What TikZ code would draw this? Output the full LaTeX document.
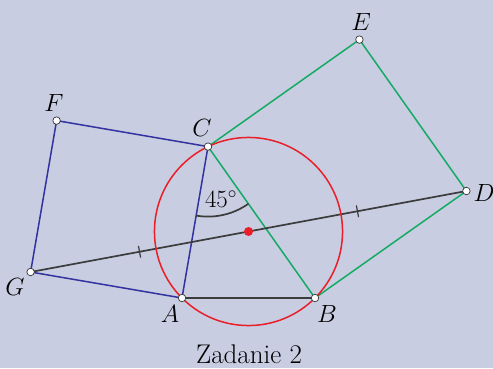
\documentclass[tikz,border=0pt]{standalone}
\usetikzlibrary{calc,angles}
\definecolor{bgc}{RGB}{200,205,225}
\definecolor{sqblue}{RGB}{50,50,160}
\definecolor{sqgreen}{RGB}{20,170,100}
\definecolor{circred}{RGB}{235,30,40}
\definecolor{darkline}{RGB}{60,60,60}
\begin{document}
\begin{tikzpicture}[x=1pt,y=1pt,
  bluel/.style={draw=sqblue,line width=1.5pt},
  greenl/.style={draw=sqgreen,line width=1.5pt},
  darkl/.style={draw=darkline,line width=1.7pt},
  pt/.style={circle,fill=white,draw=black!80,line width=0.7pt,inner sep=0pt,minimum size=7.5pt},
  lab/.style={font=\fontsize{27}{31}\selectfont},
]
\fill[bgc] (0,0) rectangle (493,368);
\useasboundingbox (0,0) rectangle (493,368);
\coordinate (A) at (182,70);
\coordinate (B) at (315,70);
\coordinate (C) at (208,221.4);
\coordinate (D) at (466.4,177);
\coordinate (E) at (359.4,328.4);
\coordinate (F) at (56.6,247.4);
\coordinate (G) at (30.6,96);
\coordinate (O) at (248.5,136.5);
% squares
\draw[greenl] (C) -- (E) -- (D) -- (B) -- cycle;
\draw[bluel] (C) -- (F) -- (G) -- (A) -- cycle;
% sides
\draw[darkl] (A) -- (B);
\draw[darkl] (G) -- (D);
% ticks
\draw[darkl,line width=1.2pt] ($(G)!0.25!(D)!6pt!90:(D)$) -- ($(G)!0.25!(D)!6pt!-90:(D)$);
\draw[darkl,line width=1.2pt] ($(G)!0.75!(D)!6pt!90:(D)$) -- ($(G)!0.75!(D)!6pt!-90:(D)$);
% circle
\draw[circred,line width=1.5pt] (O) circle (94.05);
% angle
\pic[draw=darkline,line width=1.7pt,angle radius=70pt] {angle = A--C--B};
\node[lab] (ang) at (221,169) {$45^\circ$};
% points
\node[circle,fill=circred,inner sep=0pt,minimum size=9pt] (Odot) at (O) {};
\foreach \p in {A,B,C,D,E,F,G}{\node[pt] (p\p) at (\p) {};}
% labels
\node[lab] (lA) at (170,54) {$A$};
\node[lab] (lB) at (327,54) {$B$};
\node[lab] (lC) at (202,240) {$C$};
\node[lab] (lD) at (484,175) {$D$};
\node[lab] (lE) at (361,346) {$E$};
\node[lab] (lF) at (54,265) {$F$};
\node[lab] (lG) at (15,81) {$G$};
\node[lab] (title) at (249,14) {Zadanie 2};
\end{tikzpicture}
\end{document}
